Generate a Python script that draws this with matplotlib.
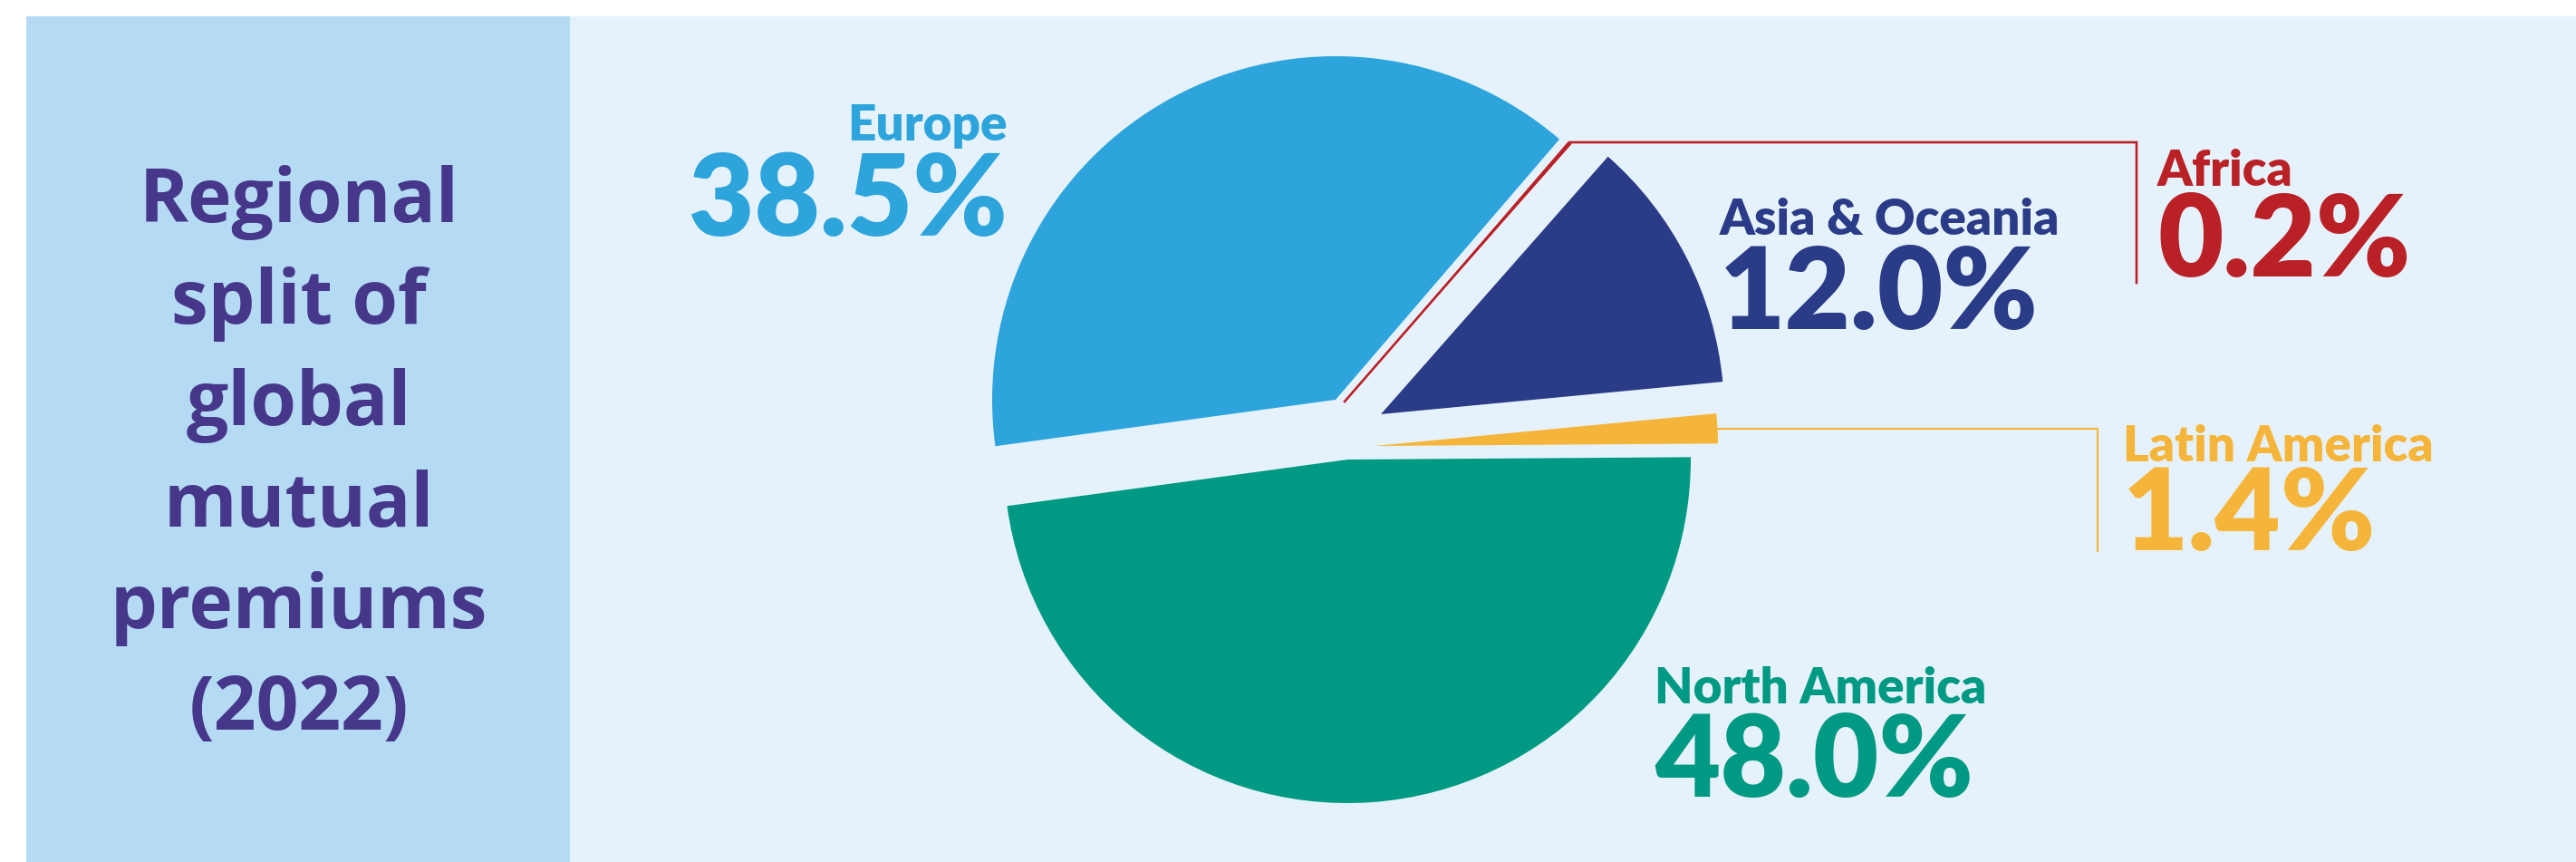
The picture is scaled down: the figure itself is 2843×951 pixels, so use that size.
import matplotlib
matplotlib.use("Agg")
import matplotlib.pyplot as plt
from matplotlib.patches import Rectangle
import numpy as np

# ---- data ----
regions = ["Latin America", "Asia & Oceania", "Africa", "Europe", "North America"]
shares = [1.4, 12.0, 0.2, 38.5, 48.0]
share_labels = ["1.4%", "12.0%", "0.2%", "38.5%", "48.0%"]
title_lines = ["Regional", "split of", "global", "mutual", "premiums", "(2022)"]

# ---- styles ----
colors = ["#F5B53A", "#2A3B87", "#B92127", "#2DA5DC", "#009983"]
W, H = 2843, 951
FONT = "Lato"
TFONT = "Open Sans"
PURPLE = "#46378A"
R = 379
# wedge apex positions (pixel coords, y downwards) -- layout of the exploded pie
apex = [(1517, 492), (1524, 457), (1484, 443), (1474, 441), (1487, 507)]

fig = plt.figure(figsize=(W / 100, H / 100), dpi=100)
fig.patch.set_facecolor("white")
ax = fig.add_axes([0, 0, 1, 1])


def Y(y):
    return H - y


wedges, _ = ax.pie(shares, colors=colors, startangle=0.4, radius=R,
                   center=(0, 0), wedgeprops=dict(linewidth=0))
for w, (px, py) in zip(wedges, apex):
    w.set_center((px, Y(py)))
    w.set_zorder(3)

ax.set_xlim(0, W)
ax.set_ylim(0, H)
ax.set_aspect("equal")
ax.axis("off")

# backgrounds
ax.add_patch(Rectangle((29, 0), 600, Y(18), facecolor="#B5DBF4", edgecolor="none", zorder=0))
ax.add_patch(Rectangle((629, 0), W - 629, Y(18), facecolor="#E6F2FB", edgecolor="none", zorder=0))

# leader lines
def outer_point(i):
    w = wedges[i]
    th = np.deg2rad((w.theta1 + w.theta2) / 2)
    cx, cy = w.center
    return cx + R * np.cos(th), cy + R * np.sin(th)

# Africa (index 2)
ox, oy = outer_point(2)
cx, cy = wedges[2].center
ax.plot([cx, ox, 2358, 2358], [cy, Y(157), Y(157), Y(312)], color=colors[2],
        lw=1.9, solid_joinstyle="miter", zorder=4)
# Latin America (index 0)
ox, oy = outer_point(0)
ax.plot([ox, 2315, 2315], [oy, oy, Y(608)], color=colors[0], lw=1.5,
        solid_joinstyle="miter", zorder=4)

# title
baselines = [245, 357, 469, 581, 693, 805]
for line, b in zip(title_lines, baselines):
    ax.text(330, Y(b), line, ha="center", va="baseline", fontsize=59,
            fontweight="bold", family=TFONT, color=PURPLE, zorder=5)

# labels: (x, name baseline, pct baseline, ha)
label_pos = {
    "Latin America": (2343, 509, 607, "left"),
    "Asia & Oceania": (1898, 259, 363, "left"),
    "Africa": (2381, 205, 305, "left"),
    "Europe": (1112, 155, 260, "right"),
    "North America": (1826, 776, 879, "left"),
}
for name, pct, col in zip(regions, share_labels, colors):
    x, b1, b2, ha = label_pos[name]
    ax.text(x, Y(b1), name, ha=ha, va="baseline", fontsize=39.5, fontweight="heavy",
            family=FONT, color=col, zorder=5)
    ax.text(x, Y(b2), pct, ha=ha, va="baseline", fontsize=90, fontweight="heavy",
            family=FONT, color=col, zorder=5)

fig.savefig("out.png", dpi=100, facecolor="white")
